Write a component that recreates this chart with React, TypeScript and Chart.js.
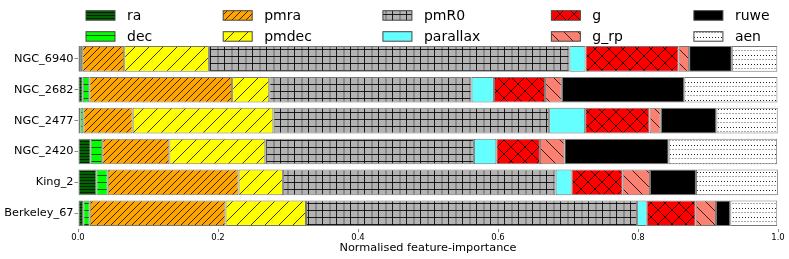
import React, { useEffect, useRef } from 'react';
import { Chart, registerables } from 'chart.js';

Chart.register(...registerables);

// ---- data ----
const clusters = ['NGC_6940', 'NGC_2682', 'NGC_2477', 'NGC_2420', 'King_2', 'Berkeley_67'];
const raImp = [0.003, 0.0067, 0.0033, 0.018, 0.0262, 0.0076];
const decImp = [0.003, 0.0095, 0.0043, 0.0166, 0.0162, 0.0091];
const pmraImp = [0.06, 0.204, 0.0705, 0.096, 0.187, 0.194];
const pmdecImp = [0.121, 0.053, 0.201, 0.137, 0.0633, 0.115];
const pmR0Imp = [0.515, 0.289, 0.394, 0.298, 0.3896, 0.473];
const parallaxImp = [0.023, 0.032, 0.0514, 0.032, 0.0229, 0.0137];
const gImp = [0.133, 0.073, 0.092, 0.0623, 0.0729, 0.07];
const gRpImp = [0.015, 0.024, 0.016, 0.0349, 0.039, 0.029];
const ruweImp = [0.061, 0.175, 0.0795, 0.149, 0.0657, 0.0204];
const aenImp = [0.065, 0.133, 0.0876, 0.155, 0.117, 0.0671];
const featureNames = ['ra', 'dec', 'pmra', 'pmdec', 'pmR0', 'parallax', 'g', 'g_rp', 'ruwe', 'aen'];
const xTickValues = [0, 0.2, 0.4, 0.6, 0.8, 1.0];
const xTitle = 'Normalised feature-importance';

const featureValues = [raImp, decImp, pmraImp, pmdecImp, pmR0Imp, parallaxImp, gImp, gRpImp, ruweImp, aenImp];
const featureColors = ['#006400', '#00ff00', '#ffa500', '#ffff00', '#b3b3b3', '#66ffff', '#ff0000', '#fa8072', '#000000', '#ffffff'];
const featureHatch = ['h3', 'h7', 'd7', 'd14', 'grid', '', 'x14', 'b14', '', 'dots'];

const FONT = '"DejaVu Sans", sans-serif';

function makePattern(kind: string, color: string): any {
  if (!kind) return color;
  let w = 8, h = 8;
  if (kind === 'h3') { w = 4; h = 3; }
  else if (kind === 'h7') { w = 4; h = 7; }
  else if (kind === 'd7') { w = 7; h = 7; }
  else if (kind === 'd14' || kind === 'x14' || kind === 'b14') { w = 14; h = 14; }
  else if (kind === 'grid') { w = 14; h = 7; }
  else if (kind === 'dots') { w = 6; h = 9; }
  const c = document.createElement('canvas');
  c.width = w; c.height = h;
  const x = c.getContext('2d')!;
  x.fillStyle = color;
  x.fillRect(0, 0, w, h);
  x.strokeStyle = 'rgba(0,0,0,0.85)';
  x.lineWidth = 0.9;
  if (kind === 'h3' || kind === 'h7') {
    x.fillStyle = 'rgba(0,0,0,0.7)';
    x.fillRect(0, 0, w, 1);
  } else if (kind === 'd7' || kind === 'd14') {
    x.beginPath();
    for (let k = -1; k <= 1; k++) { x.moveTo(k * w, h); x.lineTo(k * w + w, 0); }
    x.stroke();
  } else if (kind === 'b14') {
    x.beginPath();
    for (let k = -1; k <= 1; k++) { x.moveTo(k * w, 0); x.lineTo(k * w + w, h); }
    x.stroke();
  } else if (kind === 'x14') {
    x.beginPath();
    for (let k = -1; k <= 1; k++) {
      x.moveTo(k * w, h); x.lineTo(k * w + w, 0);
      x.moveTo(k * w, 0); x.lineTo(k * w + w, h);
    }
    x.stroke();
  } else if (kind === 'grid') {
    x.fillStyle = '#8a8a8a';
    x.fillRect(7, 0, 2, h);
    x.fillStyle = 'rgba(0,0,0,0.85)';
    x.fillRect(0, 0, 1, h);
    x.fillRect(0, 0, w, 1);
  } else if (kind === 'dots') {
    x.fillStyle = '#222';
    x.fillRect(1, 1, 1, 1);
    x.fillRect(4, 1, 1, 1);
    x.fillStyle = '#aaa';
    x.fillRect(0, 5, 2, 1);
    x.fillRect(3, 5, 2, 1);
  }
  return x.createPattern(c, 'repeat');
}

const gridLegend = {
  id: 'gridLegend',
  afterDraw(chart: any) {
    const ctx = chart.ctx;
    const ds = chart.data.datasets;
    ctx.save();
    ctx.font = '14px ' + FONT;
    ctx.textBaseline = 'alphabetic';
    ctx.textAlign = 'left';
    const rowTop = [10.7, 31.7];
    const rowBase = [20.3, 41.3];
    let x = 86;
    for (let c = 0; c < Math.ceil(ds.length / 2); c++) {
      let maxW = 0;
      for (let r = 0; r < 2; r++) {
        const d = ds[c * 2 + r];
        if (!d) continue;
        maxW = Math.max(maxW, ctx.measureText(d.label).width);
        ctx.fillStyle = d.backgroundColor;
        ctx.fillRect(x, rowTop[r], 29, 9.5);
        ctx.strokeStyle = '#444';
        ctx.lineWidth = 1;
        ctx.strokeRect(x, rowTop[r], 29, 9.5);
        ctx.fillStyle = '#000';
        ctx.fillText(d.label, x + 41, rowBase[r]);
      }
      x += 41 + maxW + 71;
    }
    ctx.restore();
  },
};

export default function App() {
  const ref = useRef<HTMLCanvasElement | null>(null);
  useEffect(() => {
    if (!ref.current) return;
    const datasets = featureNames.map((name, i) => ({
      label: name,
      data: featureValues[i],
      backgroundColor: makePattern(featureHatch[i], featureColors[i]),
      borderColor: '#777',
      borderWidth: 1,
      borderSkipped: false,
      barPercentage: 0.83,
      categoryPercentage: 1,
    }));
    const chart = new Chart(ref.current, {
      type: 'bar',
      data: { labels: clusters, datasets },
      options: {
        indexAxis: 'y',
        animation: false,
        responsive: true,
        maintainAspectRatio: false,
        layout: { padding: { left: 0, right: 11, top: 43.5, bottom: 0 } },
        plugins: { legend: { display: false }, tooltip: { enabled: false } },
        scales: {
          x: {
            stacked: true,
            min: 0,
            max: 1,
            afterBuildTicks: (s: any) => { s.ticks = xTickValues.map((v) => ({ value: v })); },
            afterFit: (s: any) => { s.height = 30.3; },
            ticks: {
              callback: (v: any) => Number(v).toFixed(1),
              font: { family: FONT, size: 8.5, lineHeight: 1 },
              color: '#000',
              padding: 1,
              maxRotation: 0,
            },
            grid: { drawOnChartArea: false, drawTicks: true, tickLength: 3.5, color: '#888' },
            border: { display: false },
            title: {
              display: true,
              text: xTitle,
              font: { family: FONT, size: 11.3 },
              color: '#000',
              padding: { top: 0, bottom: 4.4 },
            },
          },
          y: {
            stacked: true,
            afterFit: (s: any) => { s.width = 78; },
            ticks: {
              font: { family: FONT, size: 11.3 },
              color: '#000',
              padding: 1,
            },
            grid: { drawOnChartArea: false, drawTicks: true, tickLength: 3.5, color: '#888', offset: false },
            border: { display: false },
          },
        },
      },
      plugins: [gridLegend],
    } as any);
    return () => chart.destroy();
  }, []);
  return (
    <div style={{ position: 'absolute', left: 0, top: 0, width: 789, height: 259 }}>
      <canvas ref={ref} />
    </div>
  );
}
